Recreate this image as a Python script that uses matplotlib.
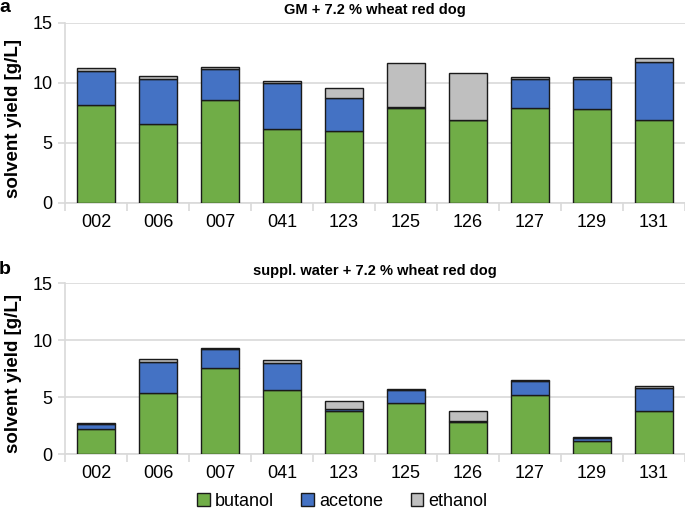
import matplotlib.pyplot as plt
import numpy as np

plt.rcParams['font.family'] = ['Liberation Sans', 'DejaVu Sans']

strains = ['002', '006', '007', '041', '123', '125', '126', '127', '129', '131']

# panel a: GM + 7.2 % wheat red dog (g/L)
butanol_a = [8.17, 6.56, 8.56, 6.14, 5.97, 7.92, 6.86, 7.92, 7.80, 6.92]
acetone_a = [2.83, 3.77, 2.61, 3.83, 2.72, 0.08, 0.06, 2.41, 2.53, 4.83]
ethanol_a = [0.19, 0.23, 0.13, 0.20, 0.89, 3.67, 3.86, 0.14, 0.14, 0.31]

# panel b: suppl. water + 7.2 % wheat red dog (g/L)
butanol_b = [2.20, 5.37, 7.60, 5.63, 3.84, 4.52, 2.82, 5.22, 1.20, 3.84]
acetone_b = [0.50, 2.73, 1.60, 2.41, 0.12, 1.08, 0.14, 1.20, 0.27, 2.02]
ethanol_b = [0.08, 0.26, 0.10, 0.20, 0.70, 0.09, 0.85, 0.09, 0.05, 0.12]

titles = ['GM + 7.2 % wheat red dog', 'suppl. water + 7.2 % wheat red dog']
letters = ['a', 'b']

c_but = '#70AD47'
c_ace = '#4472C4'
c_eth = '#BFBFBF'
grid_c = '#D9D9D9'

fig = plt.figure(figsize=(6.85, 5.28), dpi=100)
ax_a = fig.add_axes([0.0949, 0.616, 0.905, 0.341])
ax_b = fig.add_axes([0.0949, 0.1396, 0.905, 0.3238])

data = [(butanol_a, acetone_a, ethanol_a), (butanol_b, acetone_b, ethanol_b)]
x = np.arange(len(strains))

for ax, (but, ace, eth), title, letter in zip([ax_a, ax_b], data, titles, letters):
    but = np.array(but)
    ace = np.array(ace)
    eth = np.array(eth)
    kw = dict(width=0.6, edgecolor='#1a1a1a', linewidth=1.0, zorder=3)
    ax.bar(x, but, color=c_but, label='butanol', **kw)
    ax.bar(x, ace, bottom=but, color=c_ace, label='acetone', **kw)
    ax.bar(x, eth, bottom=but + ace, color=c_eth, label='ethanol', **kw)

    ax.set_xlim(-0.5, len(strains) - 0.5)
    ax.set_ylim(0, 15)
    ax.set_yticks([0, 5, 10, 15])
    ax.yaxis.grid(True, color=grid_c, linewidth=1.2, zorder=0)
    ax.set_axisbelow(True)

    # category labels centred, tick marks at the boundaries
    ax.set_xticks(x)
    ax.set_xticklabels(strains, fontsize=13)
    ax.tick_params(axis='x', length=0, pad=8)
    ax.set_xticks(np.arange(len(strains) + 1) - 0.5, minor=True)
    ax.tick_params(axis='x', which='minor', length=6, color=grid_c, width=1.2)
    ax.tick_params(axis='y', labelsize=13, length=5, color=grid_c, width=1.2, pad=4)

    for s in ['top', 'right']:
        ax.spines[s].set_visible(False)
    for s in ['left', 'bottom']:
        ax.spines[s].set_color(grid_c)
        ax.spines[s].set_linewidth(1.2)

    ax.set_ylabel('solvent yield [g/L]', fontsize=13.5, fontweight='bold')
    ax.yaxis.set_label_coords(-0.07, 0.47)
    ax.set_title(title, fontsize=10.5, fontweight='bold', pad=6)
    ax.text(-0.088, 1.13, letter, transform=ax.transAxes, fontsize=14,
            fontweight='bold', va='top', ha='right')

handles, labels = ax_b.get_legend_handles_labels()
fig.legend(handles, labels, loc='center', bbox_to_anchor=(0.5, 0.05), ncol=3,
           frameon=False, fontsize=13, handlelength=0.7, handleheight=0.7,
           handletextpad=0.3, columnspacing=1.5)

fig.savefig('out.png', dpi=100)
